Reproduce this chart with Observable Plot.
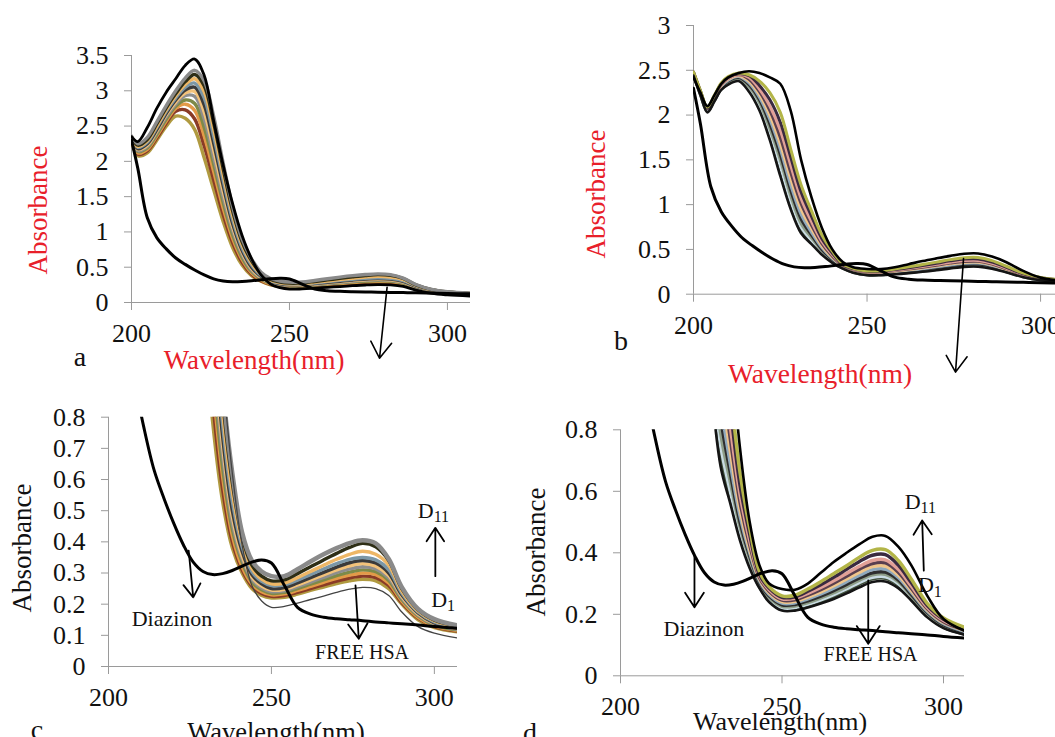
<!DOCTYPE html>
<html><head><meta charset="utf-8">
<script src="https://cdn.jsdelivr.net/npm/d3@7"></script>
<script src="https://cdn.jsdelivr.net/npm/@observablehq/plot@0.6"></script>
<style>
html,body{margin:0;padding:0;background:#fff;}
#fig{position:relative;width:1055px;height:737px;overflow:hidden;font-family:"Liberation Serif","Times New Roman","DejaVu Serif",serif;background:#fff;}
#fig svg{position:absolute;}
#fig svg text{font-family:"Liberation Serif","Times New Roman","DejaVu Serif",serif !important;}
</style></head><body><div id="fig"></div>
<script>
// ---------- x ticks / y ticks ----------
const xTicks = [200, 250, 300];
const yTicksA = [0, 0.5, 1, 1.5, 2, 2.5, 3, 3.5];
const yTicksB = [0, 0.5, 1, 1.5, 2, 2.5, 3];
const yTicksC = [0, 0.1, 0.2, 0.3, 0.4, 0.5, 0.6, 0.7, 0.8];
const yTicksD = [0, 0.2, 0.4, 0.6, 0.8];

// ---------- wavelength grids (nm) ----------
const wlAC = [200,202,205,208,211,214,217,220,223,226,229,232,235,238,241,244,247,250,254,258,262,266,270,274,278,282,286,290,295,300,308];
const wlDiaz = wlAC;
const wlBD = [200,202,204,206,208,210,213,216,219,222,225,228,231,234,237,240,243,246,250,254,258,262,266,270,274,278,282,286,290,295,300,308];

// ---------- Diazinon (shared) ----------
const diazinon = [2.3,1.9,1.2,0.92,0.76,0.63,0.54,0.46,0.39,0.335,0.305,0.295,0.298,0.308,0.322,0.335,0.342,0.332,0.26,0.19,0.168,0.158,0.153,0.15,0.147,0.143,0.14,0.137,0.133,0.128,0.122];

// ---------- panels a / c : HSA + diazinon titration ----------
const acFree = [2.35,2.28,2.48,2.75,2.98,3.17,3.36,3.45,3.22,2.58,1.95,1.40,0.95,0.62,0.39,0.26,0.21,0.19,0.193,0.203,0.215,0.226,0.238,0.248,0.254,0.25,0.228,0.175,0.128,0.107,0.09];
const acD1 = [2.30,2.08,2.12,2.30,2.50,2.64,2.61,2.45,2.05,1.60,1.15,0.78,0.53,0.38,0.30,0.25,0.228,0.22,0.222,0.232,0.244,0.255,0.266,0.275,0.28,0.275,0.25,0.20,0.15,0.125,0.11];
const acD2 = [2.31,2.10,2.15,2.33,2.54,2.71,2.73,2.60,2.22,1.74,1.25,0.85,0.57,0.40,0.31,0.258,0.234,0.225,0.228,0.238,0.25,0.262,0.274,0.284,0.29,0.285,0.26,0.205,0.155,0.128,0.112];
const acD3 = [2.32,2.12,2.17,2.36,2.57,2.75,2.81,2.72,2.36,1.86,1.34,0.91,0.61,0.42,0.32,0.265,0.24,0.23,0.233,0.244,0.257,0.27,0.283,0.293,0.30,0.295,0.268,0.21,0.158,0.13,0.114];
const acD4 = [2.32,2.14,2.19,2.38,2.60,2.78,2.87,2.82,2.48,1.96,1.42,0.96,0.64,0.44,0.335,0.272,0.246,0.235,0.238,0.25,0.264,0.278,0.292,0.303,0.31,0.304,0.276,0.215,0.162,0.133,0.116];
const acD5 = [2.33,2.15,2.21,2.41,2.63,2.81,2.93,2.92,2.60,2.06,1.50,1.02,0.68,0.46,0.345,0.28,0.252,0.24,0.243,0.256,0.271,0.286,0.301,0.313,0.32,0.313,0.284,0.22,0.165,0.136,0.118];
const acD6 = [2.33,2.17,2.23,2.43,2.66,2.84,2.97,2.99,2.70,2.16,1.58,1.07,0.71,0.48,0.355,0.287,0.258,0.245,0.248,0.262,0.278,0.294,0.31,0.323,0.33,0.322,0.292,0.225,0.168,0.138,0.12];
const acD7 = [2.34,2.18,2.25,2.45,2.68,2.87,3.01,3.05,2.80,2.26,1.66,1.12,0.74,0.50,0.37,0.295,0.265,0.25,0.253,0.268,0.285,0.302,0.319,0.333,0.34,0.332,0.30,0.23,0.172,0.14,0.122];
const acD8 = [2.34,2.20,2.27,2.48,2.71,2.90,3.05,3.11,2.90,2.36,1.74,1.18,0.78,0.53,0.385,0.305,0.273,0.26,0.262,0.277,0.295,0.313,0.33,0.344,0.35,0.342,0.31,0.236,0.175,0.143,0.124];
const acD9 = [2.35,2.21,2.29,2.50,2.73,2.93,3.09,3.17,2.99,2.46,1.82,1.24,0.82,0.56,0.40,0.315,0.28,0.265,0.268,0.285,0.305,0.325,0.344,0.36,0.37,0.36,0.325,0.242,0.178,0.146,0.126];
const acD10 = [2.35,2.23,2.31,2.53,2.76,2.96,3.13,3.23,3.07,2.55,1.90,1.30,0.86,0.59,0.415,0.325,0.29,0.275,0.278,0.298,0.32,0.342,0.363,0.382,0.395,0.384,0.34,0.25,0.182,0.149,0.128];
const acD11 = [2.36,2.25,2.34,2.56,2.79,3.0,3.18,3.29,3.14,2.64,1.98,1.36,0.90,0.62,0.43,0.34,0.305,0.29,0.29,0.312,0.337,0.36,0.38,0.396,0.405,0.395,0.345,0.255,0.185,0.152,0.13];
const acColors = ["#b09a40","#8a3b26","#e39a48","#7e8a48","#8e8e8e","#f2c27a","#3a3a3a","#7c97a6","#eeb766","#2e2e16","#8a8a8a"];

// ---------- panels b / d ----------
const bdFree = [2.44,2.22,2.03,2.15,2.28,2.34,2.38,2.26,2.05,1.72,1.32,0.95,0.68,0.56,0.44,0.35,0.285,0.24,0.212,0.212,0.222,0.235,0.25,0.268,0.288,0.305,0.307,0.285,0.245,0.19,0.155,0.13];
const bdD1 = [2.45,2.23,2.04,2.16,2.29,2.35,2.39,2.28,2.08,1.77,1.37,0.99,0.71,0.58,0.455,0.36,0.29,0.245,0.216,0.217,0.228,0.242,0.258,0.277,0.298,0.315,0.317,0.295,0.252,0.195,0.158,0.132];
const bdD2 = [2.45,2.23,2.05,2.17,2.30,2.36,2.40,2.30,2.11,1.81,1.43,1.04,0.75,0.60,0.47,0.37,0.295,0.25,0.221,0.222,0.233,0.247,0.264,0.283,0.304,0.32,0.322,0.30,0.256,0.198,0.16,0.134];
const bdD3 = [2.46,2.24,2.05,2.18,2.31,2.37,2.41,2.32,2.14,1.85,1.50,1.10,0.79,0.63,0.485,0.38,0.30,0.255,0.226,0.227,0.238,0.253,0.27,0.29,0.311,0.328,0.33,0.306,0.26,0.202,0.163,0.136];
const bdD4 = [2.46,2.24,2.06,2.18,2.31,2.38,2.42,2.34,2.17,1.90,1.56,1.16,0.84,0.66,0.50,0.39,0.305,0.26,0.231,0.232,0.244,0.259,0.277,0.297,0.318,0.335,0.337,0.312,0.265,0.206,0.166,0.138];
const bdD5 = [2.47,2.25,2.06,2.19,2.32,2.39,2.43,2.36,2.20,1.95,1.62,1.22,0.89,0.69,0.52,0.40,0.31,0.265,0.236,0.237,0.25,0.266,0.285,0.306,0.327,0.345,0.347,0.32,0.272,0.21,0.17,0.14];
const bdD6 = [2.47,2.25,2.07,2.20,2.33,2.40,2.44,2.38,2.23,2.00,1.68,1.29,0.95,0.73,0.54,0.41,0.315,0.27,0.241,0.242,0.256,0.273,0.293,0.315,0.337,0.355,0.357,0.328,0.278,0.214,0.173,0.143];
const bdD7 = [2.47,2.26,2.07,2.20,2.34,2.41,2.45,2.40,2.26,2.05,1.75,1.36,1.01,0.77,0.565,0.425,0.32,0.275,0.246,0.247,0.262,0.28,0.301,0.324,0.347,0.365,0.367,0.337,0.285,0.218,0.176,0.145];
const bdD8 = [2.48,2.26,2.08,2.21,2.34,2.41,2.45,2.42,2.29,2.10,1.83,1.44,1.07,0.81,0.59,0.44,0.325,0.28,0.25,0.252,0.268,0.287,0.309,0.333,0.356,0.375,0.377,0.346,0.292,0.222,0.18,0.148];
const bdD9 = [2.48,2.27,2.08,2.21,2.35,2.42,2.46,2.44,2.33,2.17,1.92,1.53,1.14,0.87,0.62,0.46,0.33,0.285,0.255,0.257,0.275,0.296,0.32,0.346,0.372,0.392,0.394,0.36,0.303,0.228,0.184,0.15];
const bdD10 = [2.48,2.27,2.09,2.22,2.36,2.43,2.47,2.45,2.38,2.25,2.03,1.62,1.22,0.93,0.66,0.48,0.34,0.29,0.26,0.262,0.282,0.306,0.332,0.358,0.386,0.408,0.41,0.375,0.315,0.235,0.188,0.152];
const bdD11 = [2.42,2.25,2.10,2.22,2.35,2.42,2.47,2.49,2.47,2.42,2.35,2.05,1.50,1.08,0.74,0.50,0.36,0.30,0.282,0.28,0.30,0.335,0.37,0.40,0.428,0.452,0.455,0.42,0.36,0.26,0.185,0.14];
const bdColors = ["#3f4f3a","#c9dbe3","#8e9e88","#2e2e2e","#8fa9bd","#f0c58a","#5a3f4f","#e2a097","#3a2a40","#b3b548"];

// ---------- annotations (data coordinates) ----------
const arrowsA = [{x1: 280.9, y1: 0.217, x2: 278.5, y2: -0.79}];
const arrowsB = [{x1: 277.8, y1: 0.398, x2: 275.5, y2: -0.87}];
const arrowsC = [
  {x1: 224.6, y1: 0.372, x2: 226.0, y2: 0.222},
  {x1: 275.8, y1: 0.26, x2: 276.8, y2: 0.089},
  {x1: 300.3, y1: 0.29, x2: 300.3, y2: 0.445}
];
const arrowsD = [
  {x1: 222.9, y1: 0.391, x2: 222.9, y2: 0.223},
  {x1: 276.7, y1: 0.31, x2: 276.7, y2: 0.104},
  {x1: 293.9, y1: 0.342, x2: 293.4, y2: 0.505}
];
const labelsC = [{x: 219.5, y: 0.153, t: "Diazinon", s: 22}, {x: 277.8, y: 0.046, t: "FREE HSA", s: 20}];
const labelsD = [{x: 225.8, y: 0.153, t: "Diazinon", s: 22}, {x: 277.4, y: 0.069, t: "FREE HSA", s: 20}];
const dLabelsC = [{x: 299.8, y: 0.498, sub: "11"}, {x: 303.9, y: 0.214, sub: "1"}];
const dLabelsD = [{x: 292.9, y: 0.565, sub: "11"}, {x: 297.0, y: 0.294, sub: "1"}];

const FONT = '"Liberation Serif", "Times New Roman", "DejaVu Serif", serif';
const fig = document.getElementById("fig");

function rows(wl, vals) { return wl.map((w, i) => ({wl: w, A: vals[i]})); }

function lineMark(wl, vals, stroke, strokeWidth) {
  return Plot.line(rows(wl, vals), {x: "wl", y: "A", stroke, strokeWidth, curve: "catmull-rom", clip: true});
}

function axes(yTicks) {
  return [
    Plot.ruleX([200], {stroke: "#9a9a9a", strokeWidth: 1}),
    Plot.ruleY([0], {stroke: "#9a9a9a", strokeWidth: 1}),
    Plot.axisY(yTicks, {tickSize: 7, tickPadding: 16, fontSize: 26, stroke: "#9a9a9a", fill: "#111", label: null, tickFormat: d => String(d)}),
    Plot.axisX(xTicks, {tickSize: 8, tickPadding: 13, fontSize: 26, stroke: "#9a9a9a", fill: "#111", label: null, tickFormat: d => String(d)})
  ];
}

function panel(cfg) {
  const svg = Plot.plot({
    width: cfg.width, height: cfg.height,
    marginLeft: cfg.ml, marginRight: cfg.mr, marginTop: cfg.mt, marginBottom: cfg.mb,
    x: {domain: cfg.xd, axis: null},
    y: {domain: cfg.yd, axis: null},
    style: {background: "transparent", overflow: "visible", fontFamily: FONT},
    marks: cfg.marks
  });
  svg.style.left = cfg.left + "px";
  svg.style.top = cfg.top + "px";
  fig.appendChild(svg);
}

function arrowMark(data, w) {
  return Plot.arrow(data, {x1: "x1", y1: "y1", x2: "x2", y2: "y2", stroke: "#000", strokeWidth: w, headLength: 18, headAngle: 66});
}

function annot(labels, dl, arrows) {
  return [
    arrowMark(arrows, 1.8),
    Plot.text(labels, {x: "x", y: "y", text: "t", fontSize: d => d.s, fill: "#111"}),
    Plot.text(dl, {x: "x", y: "y", text: () => "D", fontSize: 22, textAnchor: "end", fill: "#111"}),
    Plot.text(dl, {x: "x", y: "y", text: "sub", fontSize: 16, textAnchor: "start", dy: 6, fill: "#111"})
  ];
}

const acSeries = [acD1, acD2, acD3, acD4, acD5, acD6, acD7, acD8, acD9, acD10, acD11];
const bdSeries = [bdD1, bdD2, bdD3, bdD4, bdD5, bdD6, bdD7, bdD8, bdD9, bdD10];

// panel a
panel({
  left: 0, top: 0, width: 480, height: 380, ml: 131, mr: 10, mt: 55, mb: 78,
  xd: [200, 307.3], yd: [0, 3.5],
  marks: [
    ...axes(yTicksA),
    ...acSeries.map((s, i) => lineMark(wlAC, s, acColors[i], 3.4)),
    lineMark(wlAC, acFree, "#000", 2.8),
    lineMark(wlDiaz, diazinon, "#000", 3),
    arrowMark(arrowsA, 1.6)
  ]
});

// panel b
panel({
  left: 560, top: 0, width: 495, height: 390, ml: 133, mr: 0, mt: 25, mb: 96.3,
  xd: [200, 304.3], yd: [0, 3],
  marks: [
    ...axes(yTicksB),
    ...bdSeries.map((s, i) => lineMark(wlBD, s, bdColors[i], 3)),
    lineMark(wlBD, bdFree, "#151515", 2.6),
    lineMark(wlBD, bdD11, "#000", 2.6),
    lineMark(wlDiaz, diazinon, "#000", 3),
    arrowMark(arrowsB, 1.6)
  ]
});

// panel c
panel({
  left: 0, top: 380, width: 480, height: 357, ml: 108, mr: 23, mt: 36.7, mb: 71,
  xd: [200, 307.1], yd: [0, 0.8],
  marks: [
    ...axes(yTicksC),
    ...acSeries.map((s, i) => lineMark(wlAC, s, acColors[i], i === 10 ? 4.5 : 3.4)),
    lineMark(wlAC, acFree, "#444", 1.3),
    lineMark(wlDiaz, diazinon, "#000", 3),
    ...annot(labelsC, dLabelsC, arrowsC)
  ]
});

// panel d
panel({
  left: 520, top: 390, width: 535, height: 347, ml: 100, mr: 91, mt: 39.3, mb: 61.7,
  xd: [200, 306.5], yd: [0, 0.8],
  marks: [
    ...axes(yTicksD),
    ...bdSeries.map((s, i) => lineMark(wlBD, s, bdColors[i], 3.4)),
    lineMark(wlBD, bdFree, "#151515", 2.6),
    lineMark(wlBD, bdD11, "#000", 2.6),
    lineMark(wlDiaz, diazinon, "#000", 3),
    ...annot(labelsD, dLabelsD, arrowsD)
  ]
});

// ---------- axis titles and panel letters ----------
const RED = "#e8202a";
const titles = [
  {t: "Absorbance", x: 38, y: 210, s: 27, c: RED, r: true},
  {t: "Wavelength(nm)", x: 254, y: 369, s: 27, c: RED},
  {t: "a", x: 80, y: 366, s: 28, c: "#111"},
  {t: "Absorbance", x: 596, y: 194, s: 27, c: RED, r: true},
  {t: "Wavelength(nm)", x: 820, y: 383, s: 27.5, c: RED},
  {t: "b", x: 621, y: 350, s: 28, c: "#111"},
  {t: "Absorbance", x: 22, y: 548, s: 27, c: "#111", r: true},
  {t: "Wavelength(nm)", x: 276, y: 741, s: 26.5, c: "#111"},
  {t: "c", x: 37, y: 739, s: 28, c: "#111"},
  {t: "Absorbance", x: 536, y: 552, s: 27, c: "#111", r: true},
  {t: "Wavelength(nm)", x: 780, y: 730, s: 26, c: "#111"},
  {t: "d", x: 530, y: 742, s: 28, c: "#111"}
];
const ov = d3.select(fig).append("svg").attr("width", 1055).attr("height", 737)
  .style("left", "0px").style("top", "0px").style("pointer-events", "none");
ov.selectAll("text").data(titles).join("text")
  .attr("transform", d => d.r ? `translate(${d.x},${d.y}) rotate(-90)` : `translate(${d.x},${d.y})`)
  .attr("text-anchor", "middle")
  .attr("dominant-baseline", d => d.r ? "central" : "auto")
  .style("font-family", FONT)
  .attr("font-size", d => d.s)
  .attr("fill", d => d.c)
  .text(d => d.t);
</script>
</body></html>
